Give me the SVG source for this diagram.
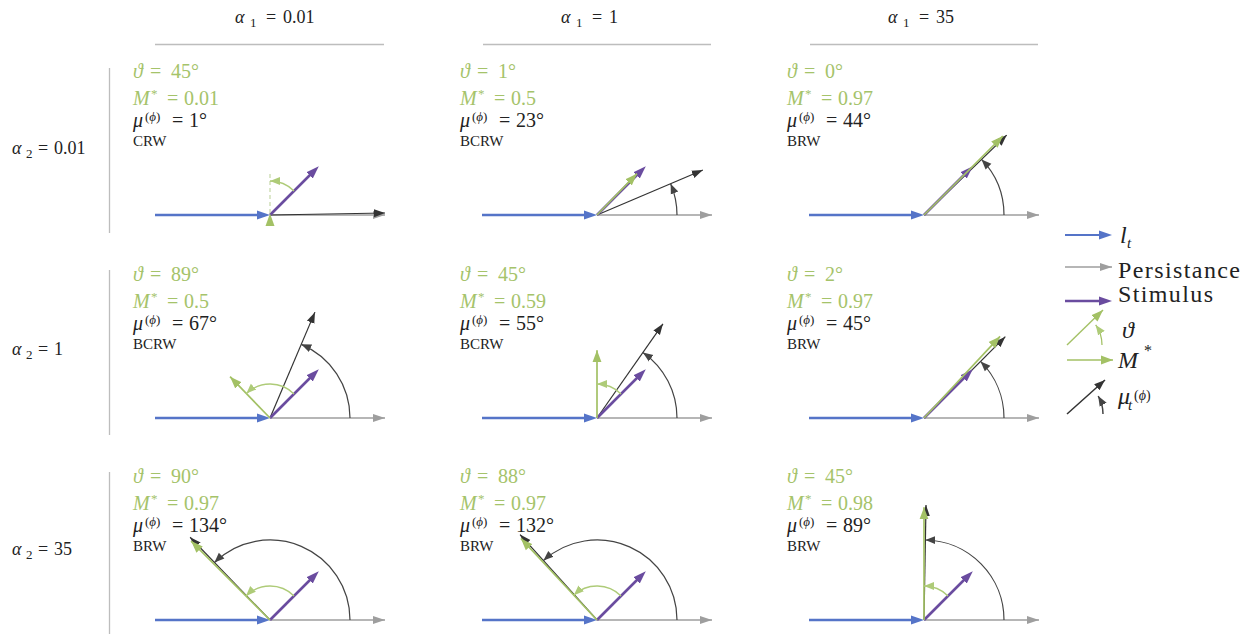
<svg xmlns="http://www.w3.org/2000/svg" width="1252" height="634" viewBox="0 0 1252 634">
<style>
.tx{font-family:"Liberation Serif","Times New Roman",Times,"Noto Serif","DejaVu Serif",serif}
.eq{font-family:"Liberation Serif","Times New Roman","DejaVu Serif",serif}
.it{font-style:italic}
.g{fill:#a5c36a}
.k{fill:#222}
.v{font-size:20px}
.sup{font-size:13px}
.typ{font-size:15px}
.hd{font-size:18px}
.lg{font-size:24px}
.rule{stroke:#bdbdbd;stroke-width:1.3;fill:none}
.gray{stroke:#9e9e9e;stroke-width:1.6;fill:none;marker-end:url(#hG)}
.blue{stroke:#5574c8;stroke-width:2.6;fill:none;marker-end:url(#hB)}
.blk{stroke:#333;stroke-width:1.2;fill:none;marker-end:url(#hK)}
.barc{stroke:#444;stroke-width:1.2;fill:none;marker-end:url(#hKa)}
.pur{stroke:#6a4c9f;stroke-width:2.6;fill:none;marker-end:url(#hP)}
.grn{stroke:#a3c165;stroke-width:1.7;fill:none;marker-end:url(#hV)}
.garc{stroke:#aecb78;stroke-width:1.3;fill:none;marker-end:url(#hVa)}
</style>
<defs>
<marker id="hB" markerUnits="userSpaceOnUse" markerWidth="14" markerHeight="10" refX="3" refY="5" orient="auto"><path d="M0,0.5 L13,5 L0,9.5 z" fill="#5574c8"/></marker>
<marker id="hP" markerUnits="userSpaceOnUse" markerWidth="14" markerHeight="10" refX="3" refY="5" orient="auto"><path d="M0,0.5 L13,5 L0,9.5 z" fill="#6a4c9f"/></marker>
<marker id="hG" markerUnits="userSpaceOnUse" markerWidth="13" markerHeight="10" refX="12" refY="5" orient="auto"><path d="M0,1 L12,5 L0,9 z" fill="#9e9e9e"/></marker>
<marker id="hK" markerUnits="userSpaceOnUse" markerWidth="12" markerHeight="10" refX="11" refY="5" orient="auto"><path d="M0,1 L11,5 L0,9 z" fill="#333"/></marker>
<marker id="hKa" markerUnits="userSpaceOnUse" markerWidth="12" markerHeight="10" refX="10" refY="5" orient="auto"><path d="M0,1 L10,5 L0,9 z" fill="#444"/></marker>
<marker id="hV" markerUnits="userSpaceOnUse" markerWidth="13" markerHeight="10" refX="12" refY="5" orient="auto"><path d="M0,0.5 L12,5 L0,9.5 z" fill="#a3c165"/></marker>
<marker id="hVa" markerUnits="userSpaceOnUse" markerWidth="12" markerHeight="10" refX="10" refY="5" orient="auto"><path d="M0,1 L10,5 L0,9 z" fill="#aecb78"/></marker>
</defs>
<rect width="1252" height="634" fill="#fff"/>

<g id="headers">
<line class="rule" x1="155" y1="44.5" x2="384" y2="44.5"/>
<line class="rule" x1="483" y1="44.5" x2="711" y2="44.5"/>
<line class="rule" x1="810" y1="44.5" x2="1038" y2="44.5"/>
<text class="tx k hd"><tspan x="235" y="23" class="it">α</tspan><tspan x="250" y="27" class="sup">1</tspan><tspan x="266" y="23" class="eq">=</tspan><tspan x="283" y="23">0.01</tspan></text>
<text class="tx k hd"><tspan x="561" y="23" class="it">α</tspan><tspan x="576" y="27" class="sup">1</tspan><tspan x="592" y="23" class="eq">=</tspan><tspan x="609" y="23">1</tspan></text>
<text class="tx k hd"><tspan x="888" y="23" class="it">α</tspan><tspan x="903" y="27" class="sup">1</tspan><tspan x="919" y="23" class="eq">=</tspan><tspan x="936" y="23">35</tspan></text>
</g>

<g id="row-labels">
<line class="rule" x1="109.5" y1="68" x2="109.5" y2="233"/>
<line class="rule" x1="109.5" y1="270" x2="109.5" y2="435"/>
<line class="rule" x1="109.5" y1="472" x2="109.5" y2="634"/>
<text class="tx k hd"><tspan x="12" y="154" class="it">α</tspan><tspan x="26" y="158" class="sup">2</tspan><tspan x="38" y="154" class="eq">=</tspan><tspan x="54" y="154">0.01</tspan></text>
<text class="tx k hd"><tspan x="12" y="355" class="it">α</tspan><tspan x="26" y="359" class="sup">2</tspan><tspan x="38" y="355" class="eq">=</tspan><tspan x="54" y="355">1</tspan></text>
<text class="tx k hd"><tspan x="12" y="555" class="it">α</tspan><tspan x="26" y="559" class="sup">2</tspan><tspan x="38" y="555" class="eq">=</tspan><tspan x="54" y="555">35</tspan></text>
</g>

<!-- Row 1 -->
<g id="cell-r1c1">
<text class="tx g v"><tspan x="133" y="78" class="it">ϑ</tspan><tspan x="150" y="78" class="eq">=</tspan><tspan x="171" y="78">45°</tspan></text>
<text class="tx g v"><tspan x="133" y="105" class="it">M</tspan><tspan x="151" y="98" class="sup">*</tspan><tspan x="167" y="105" class="eq">=</tspan><tspan x="184" y="105">0.01</tspan></text>
<text class="tx k v"><tspan x="133" y="127" class="it">μ</tspan><tspan x="145" y="121" class="sup">(<tspan class="it">ϕ</tspan>)</tspan><tspan x="172" y="127" class="eq">=</tspan><tspan x="189" y="127">1°</tspan></text>
<text class="tx k typ" x="133" y="146">CRW</text>
<path class="gray" d="M270,215 H385"/>
<path class="blue" d="M155,215 H260"/>
<path class="blk" d="M270,215 L384.98,213"/>
<path class="pur" d="M270,215 L311.72,173.28"/>
<path d="M270,213 V171" stroke="#b9cf95" stroke-width="1" stroke-dasharray="4 3" fill="none"/>
<path class="garc" d="M294.04,190.96 A34,34 0 0 0 270,181"/>
<polygon points="270,213.6 265.5,226 274.5,226" fill="#a3c165"/>
</g>

<g id="cell-r1c2">
<text class="tx g v"><tspan x="460" y="78" class="it">ϑ</tspan><tspan x="477" y="78" class="eq">=</tspan><tspan x="498" y="78">1°</tspan></text>
<text class="tx g v"><tspan x="460" y="105" class="it">M</tspan><tspan x="478" y="98" class="sup">*</tspan><tspan x="494" y="105" class="eq">=</tspan><tspan x="511" y="105">0.5</tspan></text>
<text class="tx k v"><tspan x="460" y="127" class="it">μ</tspan><tspan x="472" y="121" class="sup">(<tspan class="it">ϕ</tspan>)</tspan><tspan x="499" y="127" class="eq">=</tspan><tspan x="516" y="127">23°</tspan></text>
<text class="tx k typ" x="460" y="146">BCRW</text>
<path class="gray" d="M597,215 H712"/>
<path class="blue" d="M482,215 H587"/>
<path class="blk" d="M597,215 L702.86,170.07"/>
<path class="barc" d="M677,215 A80,80 0 0 0 670.64,183.74"/>
<path class="pur" d="M597,215 L638.72,173.28"/>
<path class="grn" d="M597,215 L636.94,173.64"/>
</g>

<g id="cell-r1c3">
<text class="tx g v"><tspan x="787" y="78" class="it">ϑ</tspan><tspan x="804" y="78" class="eq">=</tspan><tspan x="825" y="78">0°</tspan></text>
<text class="tx g v"><tspan x="787" y="105" class="it">M</tspan><tspan x="805" y="98" class="sup">*</tspan><tspan x="821" y="105" class="eq">=</tspan><tspan x="838" y="105">0.97</tspan></text>
<text class="tx k v"><tspan x="787" y="127" class="it">μ</tspan><tspan x="799" y="121" class="sup">(<tspan class="it">ϕ</tspan>)</tspan><tspan x="826" y="127" class="eq">=</tspan><tspan x="843" y="127">44°</tspan></text>
<text class="tx k typ" x="787" y="146">BRW</text>
<path class="gray" d="M924,215 H1039"/>
<path class="blue" d="M809,215 H914"/>
<path class="blk" d="M924,215 L1006.72,135.11"/>
<path class="barc" d="M1004,215 A80,80 0 0 0 981.55,159.43"/>
<path class="pur" d="M924,215 L965.72,173.28"/>
<path class="grn" d="M924,215 L1002.88,136.12"/>
</g>

<!-- Row 2 -->
<g id="cell-r2c1">
<text class="tx g v"><tspan x="133" y="281" class="it">ϑ</tspan><tspan x="150" y="281" class="eq">=</tspan><tspan x="171" y="281">89°</tspan></text>
<text class="tx g v"><tspan x="133" y="308" class="it">M</tspan><tspan x="151" y="301" class="sup">*</tspan><tspan x="167" y="308" class="eq">=</tspan><tspan x="184" y="308">0.5</tspan></text>
<text class="tx k v"><tspan x="133" y="330" class="it">μ</tspan><tspan x="145" y="324" class="sup">(<tspan class="it">ϕ</tspan>)</tspan><tspan x="172" y="330" class="eq">=</tspan><tspan x="189" y="330">67°</tspan></text>
<text class="tx k typ" x="133" y="349">BCRW</text>
<path class="gray" d="M270,418 H385"/>
<path class="blue" d="M155,418 H260"/>
<path class="blk" d="M270,418 L314.93,312.14"/>
<path class="barc" d="M350,418 A80,80 0 0 0 301.26,344.36"/>
<path class="pur" d="M270,418 L311.72,376.28"/>
<path class="grn" d="M270,418 L230.06,376.64"/>
<path class="garc" d="M294.04,393.96 A34,34 0 0 0 246.38,393.54"/>
</g>

<g id="cell-r2c2">
<text class="tx g v"><tspan x="460" y="281" class="it">ϑ</tspan><tspan x="477" y="281" class="eq">=</tspan><tspan x="498" y="281">45°</tspan></text>
<text class="tx g v"><tspan x="460" y="308" class="it">M</tspan><tspan x="478" y="301" class="sup">*</tspan><tspan x="494" y="308" class="eq">=</tspan><tspan x="511" y="308">0.59</tspan></text>
<text class="tx k v"><tspan x="460" y="330" class="it">μ</tspan><tspan x="472" y="324" class="sup">(<tspan class="it">ϕ</tspan>)</tspan><tspan x="499" y="330" class="eq">=</tspan><tspan x="516" y="330">55°</tspan></text>
<text class="tx k typ" x="460" y="349">BCRW</text>
<path class="gray" d="M597,418 H712"/>
<path class="blue" d="M482,418 H587"/>
<path class="blk" d="M597,418 L662.96,323.8"/>
<path class="barc" d="M677,418 A80,80 0 0 0 642.89,352.47"/>
<path class="pur" d="M597,418 L638.72,376.28"/>
<path class="grn" d="M597,418 L597,350.15"/>
<path class="garc" d="M621.04,393.96 A34,34 0 0 0 597,384"/>
</g>

<g id="cell-r2c3">
<text class="tx g v"><tspan x="787" y="281" class="it">ϑ</tspan><tspan x="804" y="281" class="eq">=</tspan><tspan x="825" y="281">2°</tspan></text>
<text class="tx g v"><tspan x="787" y="308" class="it">M</tspan><tspan x="805" y="301" class="sup">*</tspan><tspan x="821" y="308" class="eq">=</tspan><tspan x="838" y="308">0.97</tspan></text>
<text class="tx k v"><tspan x="787" y="330" class="it">μ</tspan><tspan x="799" y="324" class="sup">(<tspan class="it">ϕ</tspan>)</tspan><tspan x="826" y="330" class="eq">=</tspan><tspan x="843" y="330">45°</tspan></text>
<text class="tx k typ" x="787" y="349">BRW</text>
<path class="gray" d="M924,418 H1039"/>
<path class="blue" d="M809,418 H914"/>
<path class="blk" d="M924,418 L1005.32,336.68"/>
<path class="barc" d="M1004,418 A80,80 0 0 0 980.57,361.43"/>
<path class="pur" d="M924,418 L965.72,376.28"/>
<path class="grn" d="M924,418 L1000.08,336.41"/>
</g>

<!-- Row 3 -->
<g id="cell-r3c1">
<text class="tx g v"><tspan x="133" y="483" class="it">ϑ</tspan><tspan x="150" y="483" class="eq">=</tspan><tspan x="171" y="483">90°</tspan></text>
<text class="tx g v"><tspan x="133" y="510" class="it">M</tspan><tspan x="151" y="503" class="sup">*</tspan><tspan x="167" y="510" class="eq">=</tspan><tspan x="184" y="510">0.97</tspan></text>
<text class="tx k v"><tspan x="133" y="532" class="it">μ</tspan><tspan x="145" y="526" class="sup">(<tspan class="it">ϕ</tspan>)</tspan><tspan x="172" y="532" class="eq">=</tspan><tspan x="189" y="532">134°</tspan></text>
<text class="tx k typ" x="133" y="551">BRW</text>
<path class="gray" d="M270,620 H385"/>
<path class="blue" d="M155,620 H260"/>
<path class="blk" d="M270,620 L190.11,537.28"/>
<path class="barc" d="M350,620 A80,80 0 0 0 214.43,562.45"/>
<path class="pur" d="M270,620 L311.72,578.28"/>
<path class="grn" d="M270,620 L191.12,541.12"/>
<path class="garc" d="M294.04,595.96 A34,34 0 0 0 245.96,595.96"/>
</g>

<g id="cell-r3c2">
<text class="tx g v"><tspan x="460" y="483" class="it">ϑ</tspan><tspan x="477" y="483" class="eq">=</tspan><tspan x="498" y="483">88°</tspan></text>
<text class="tx g v"><tspan x="460" y="510" class="it">M</tspan><tspan x="478" y="503" class="sup">*</tspan><tspan x="494" y="510" class="eq">=</tspan><tspan x="511" y="510">0.97</tspan></text>
<text class="tx k v"><tspan x="460" y="532" class="it">μ</tspan><tspan x="472" y="526" class="sup">(<tspan class="it">ϕ</tspan>)</tspan><tspan x="499" y="532" class="eq">=</tspan><tspan x="516" y="532">132°</tspan></text>
<text class="tx k typ" x="460" y="551">BRW</text>
<path class="gray" d="M597,620 H712"/>
<path class="blue" d="M482,620 H587"/>
<path class="blk" d="M597,620 L520.05,534.54"/>
<path class="barc" d="M677,620 A80,80 0 0 0 543.47,560.55"/>
<path class="pur" d="M597,620 L638.72,578.28"/>
<path class="grn" d="M597,620 L520.92,538.41"/>
<path class="garc" d="M621.04,595.96 A34,34 0 0 0 573.81,595.13"/>
</g>

<g id="cell-r3c3">
<text class="tx g v"><tspan x="787" y="483" class="it">ϑ</tspan><tspan x="804" y="483" class="eq">=</tspan><tspan x="825" y="483">45°</tspan></text>
<text class="tx g v"><tspan x="787" y="510" class="it">M</tspan><tspan x="805" y="503" class="sup">*</tspan><tspan x="821" y="510" class="eq">=</tspan><tspan x="838" y="510">0.98</tspan></text>
<text class="tx k v"><tspan x="787" y="532" class="it">μ</tspan><tspan x="799" y="526" class="sup">(<tspan class="it">ϕ</tspan>)</tspan><tspan x="826" y="532" class="eq">=</tspan><tspan x="843" y="532">89°</tspan></text>
<text class="tx k typ" x="787" y="551">BRW</text>
<path class="gray" d="M924,620 H1039"/>
<path class="blue" d="M809,620 H914"/>
<path class="blk" d="M924,620 L926.01,505.02"/>
<path class="barc" d="M1004,620 A80,80 0 0 0 925.4,540.01"/>
<path class="pur" d="M924,620 L965.72,578.28"/>
<path class="grn" d="M924,620 L924,507.3"/>
<path class="garc" d="M948.04,595.96 A34,34 0 0 0 924,586"/>
</g>

<g id="legend">
<path class="blue" d="M1065,235 H1102" style="stroke-width:2"/>
<text class="tx k lg"><tspan x="1120" y="243" class="it">l</tspan><tspan x="1127" y="248" class="it" style="font-size:15px">t</tspan></text>
<path class="gray" d="M1065,267 H1112"/>
<text class="tx k lg" x="1118" y="278" textLength="122">Persistance</text>
<path class="pur" d="M1065,301 H1102"/>
<text class="tx k lg" x="1118" y="302" textLength="95">Stimulus</text>
<path class="grn" d="M1067,345 L1103,310" style="stroke-width:1.4"/>
<path class="garc" d="M1102,345 A35,35 0 0 0 1095.7,324.9" style="stroke:#a3c165"/>
<text class="tx k lg"><tspan x="1122" y="338" class="it">ϑ</tspan></text>
<path class="grn" d="M1067,360 H1113" style="stroke-width:1.4"/>
<text class="tx k lg"><tspan x="1118" y="368" class="it">M</tspan><tspan x="1144" y="356" style="font-size:16px">*</tspan></text>
<path class="blk" d="M1067,414 L1105,380" style="stroke-width:1.5"/>
<path class="barc" d="M1103,414 A36,36 0 0 0 1098.2,396" style="stroke-width:1.5"/>
<text class="tx k lg"><tspan x="1118" y="404" class="it">μ</tspan><tspan x="1128" y="410" class="it" style="font-size:15px">t</tspan><tspan x="1134" y="400" style="font-size:14px">(<tspan class="it">ϕ</tspan>)</tspan></text>
</g>
</svg>
